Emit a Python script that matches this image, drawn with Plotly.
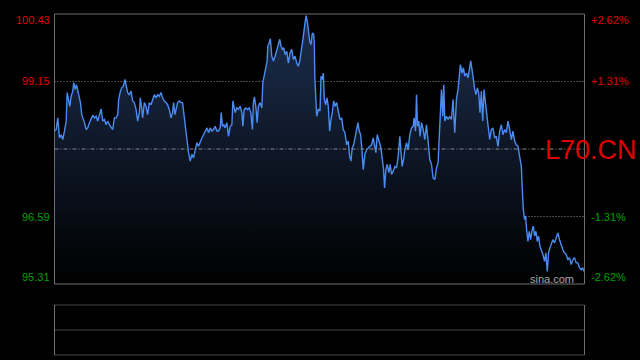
import plotly.graph_objects as go

# time index (minutes from open, approx) and prices
t = [0.0,1.7,3.3,5.0,6.7,8.3,10.0,11.7,12.7,14.0,15.3,16.7,18.3,19.3,20.7,22.0,23.3,24.7,26.0,27.3,
     28.7,30.0,31.7,33.3,35.0,36.7,38.3,40.0,41.7,43.3,45.0,46.7,48.3,50.0,51.7,53.3,55.0,56.7,58.3,60.0,
     61.7,63.3,64.3,65.7,67.3,69.0,70.7,72.0,73.3,75.0,76.7,78.3,80.0,81.7,83.3,85.0,86.0,87.3,88.3,90.0,
     91.7,93.3,95.0,96.7,98.3,100.0,101.7,103.3,105.0,106.7,108.3,110.0,111.7,113.3,115.0,116.7,118.3,119.3,120.7,122.0,
     123.3,125.0,126.7,128.3,130.0,131.7,132.7,134.3,136.0,137.7,139.3,141.0,142.7,144.3,146.0,147.7,149.3,151.0,152.7,154.3,
     156.0,157.7,159.3,161.0,162.7,164.3,166.0,167.0,168.3,169.7,171.0,172.7,174.3,176.0,177.7,178.7,180.0,181.0,182.7,184.3,
     186.0,187.7,188.7,190.0,191.7,193.3,195.0,196.7,198.3,199.3,200.3,201.7,203.0,204.3,206.0,207.7,208.7,210.0,211.7,213.0,
     213.7,215.0,216.3,217.7,219.3,221.0,222.7,224.3,225.7,227.0,228.3,229.7,231.0,232.7,234.3,236.0,237.7,239.3,241.0,242.7,
     244.3,246.0,247.7,249.3,251.0,252.0,253.3,254.3,255.7,257.0,258.3,259.7,260.3,260.8,262.7,264.3,266.0,267.0,268.3,269.3,
     270.3,271.7,273.0,274.3,275.7,277.0,278.3,279.7,281.0,282.7,284.3,286.0,287.7,289.3,291.0,292.7,294.3,295.7,297.0,298.3,
     299.7,301.0,302.7,304.0,305.3,306.7,308.0,309.3,311.0,312.7,314.3,316.0,317.7,319.3,321.0,322.0,323.3,325.0,326.7,328.3,
     329.7,330.7,332.0,333.3,335.0,336.3,337.7,339.3,341.0,342.7,344.3,346.0,347.0,348.3,349.7,351.0,352.7,354.3,356.0,357.7,
     359.3,360.3,361.7,362.7,363.7,365.0,366.3,367.7,369.3,371.0,372.7,374.3,376.0,377.7,379.3,381.0,382.7,384.3,385.3,386.3,
     387.7,389.0,390.0,391.0,392.7,394.3,396.0,397.7,399.3,401.0,402.7,404.3,405.3,406.7,408.3,409.7,411.0,412.7,414.3,415.7,
     417.0,418.3,419.7,421.0,422.3,423.7,425.0,426.3,427.7,429.0,430.3,431.7,433.0,434.3,436.0,437.7,439.3,441.0,442.7,444.3,
     446.0,447.7,449.3,451.0,452.7,454.3,456.0,457.7,459.3,461.0,462.7,464.3,466.0,467.7,468.7,469.7,471.0,472.0,473.0,474.3,
     475.7,477.0,478.3,479.7,481.0,482.3,483.7,485.0,486.3,487.7,489.3,491.0,492.3,493.7,495.0,496.3,497.7,499.3,501.0,502.7,
     504.3,506.0,507.7,509.3,511.0,512.7,514.3,516.0,517.7,519.3,521.0,522.7,524.3,526.0,527.7,529.3,530.3]

price = [98.21,98.24,98.46,98.08,98.14,98.05,98.21,98.40,98.94,98.84,98.68,98.87,98.97,99.13,99.00,99.09,98.97,98.90,98.75,98.52,
         98.46,98.37,98.24,98.27,98.37,98.46,98.51,98.46,98.49,98.40,98.52,98.63,98.40,98.43,98.33,98.40,98.33,98.27,98.24,98.46,
         98.46,98.52,98.81,98.94,99.03,99.06,99.19,99.06,98.94,98.90,98.97,98.78,98.75,98.62,98.40,98.56,98.84,98.65,98.46,98.75,
         98.68,98.52,98.75,98.71,98.81,98.90,98.84,98.90,98.87,98.94,98.84,98.78,98.75,98.71,98.62,98.46,98.56,98.75,98.52,98.62,
         98.75,98.78,98.75,98.75,98.43,98.18,98.05,97.80,97.64,97.77,97.70,97.86,97.99,97.92,98.02,98.08,98.14,98.21,98.27,98.18,
         98.27,98.21,98.24,98.30,98.21,98.21,98.27,98.56,98.30,98.33,98.27,98.37,98.11,98.30,98.33,98.78,98.68,98.56,98.65,98.62,
         98.68,98.56,98.30,98.62,98.65,98.62,98.65,98.56,98.24,98.75,98.86,98.68,98.37,98.68,98.75,98.65,99.13,99.28,99.41,99.54,
         99.82,99.88,99.96,99.63,99.54,99.63,99.76,99.85,99.95,99.82,99.76,99.79,99.66,99.72,99.50,99.69,99.76,99.57,99.63,99.50,
         99.44,99.57,99.76,100.01,100.26,100.40,100.29,100.14,99.91,99.85,100.07,100.04,99.88,99.24,98.49,98.62,98.59,99.25,99.19,99.31,
         98.81,98.71,98.84,98.68,98.21,98.43,98.56,98.78,98.68,98.75,98.56,98.43,98.46,98.24,98.18,97.95,98.02,97.73,97.64,97.89,
         97.95,98.08,98.27,98.37,98.21,98.14,97.86,97.48,97.77,97.86,97.89,97.92,97.95,98.08,97.86,97.80,98.14,98.02,97.92,97.70,
         97.48,97.13,97.48,97.58,97.42,97.58,97.39,97.45,97.54,97.51,97.73,98.11,97.92,97.54,97.67,97.86,97.99,97.86,98.14,98.27,
         98.30,98.46,98.21,98.90,98.30,98.40,98.11,98.37,98.24,98.05,98.33,97.92,97.67,97.58,97.32,97.29,97.51,97.61,98.11,98.40,
         99.00,98.49,99.09,98.40,98.49,98.43,98.49,98.43,98.81,98.18,98.81,99.00,99.19,99.47,99.31,99.41,99.25,99.31,99.22,99.44,
         99.54,99.38,99.13,99.00,98.90,99.03,98.94,98.56,98.97,98.40,99.00,98.75,98.43,98.33,98.05,98.24,98.27,98.08,98.11,97.92,
         98.21,98.33,98.14,98.24,98.18,98.40,98.24,98.05,98.21,98.02,97.95,97.92,97.73,97.54,97.10,96.72,96.53,96.60,96.34,96.12,
         96.31,96.15,96.31,96.41,96.22,96.31,96.12,96.22,96.03,95.96,95.87,95.74,95.90,95.55,95.90,95.99,96.09,96.15,96.09,96.19,
         96.28,96.15,96.03,95.96,95.90,95.87,95.77,95.81,95.68,95.77,95.81,95.71,95.71,95.62,95.58,95.62,95.55]

prev_close = 97.87
left_ticks = [100.43, 99.15, 96.59, 95.31]
right_labels = ["+2.62%", "+1.31%", "-1.31%", "-2.62%"]
symbol = "L70.CN"
watermark = "sina.com"

W, H = 640, 360
px = lambda v: v / W
py = lambda v: (H - v) / H

RED = "#e00000"
GREEN = "#00a000"
GRID = "#8a8a8a"
BORDER = "#6e6e6e"
FONT = "Arial, Liberation Sans, sans-serif"

fig = go.Figure()
fig.add_trace(go.Scatter(
    x=t, y=price, mode="lines",
    line=dict(color="#4a8cf0", width=1.4),
    fill="tozeroy",
    fillgradient=dict(type="vertical", start=95.31, stop=100.43,
                      colorscale=[[0, "rgba(0,0,0,1)"], [1, "rgba(28,46,78,1)"]]),
    hoverinfo="skip", showlegend=False,
))

shapes = []
# main panel border
shapes.append(dict(type="rect", xref="x domain", yref="y domain", x0=0, x1=1, y0=0, y1=1,
                   line=dict(color=BORDER, width=1), layer="above"))
# gridlines
for v in [left_ticks[1], left_ticks[2]]:
    shapes.append(dict(type="line", xref="x domain", yref="y", x0=0, x1=1, y0=v, y1=v,
                       line=dict(color=GRID, width=1, dash="1px,2px"), layer="below"))
shapes.append(dict(type="line", xref="x domain", yref="y", x0=0, x1=1, y0=prev_close, y1=prev_close,
                   line=dict(color=GRID, width=1, dash="4px,2px,1px,2px"), layer="above"))

# lower (volume) panel
lx0, lx1 = px(54.5), px(584.5)
shapes.append(dict(type="line", xref="paper", yref="paper", x0=lx0, x1=lx0, y0=py(355), y1=py(305),
                   line=dict(color=BORDER, width=1)))
shapes.append(dict(type="line", xref="paper", yref="paper", x0=lx1, x1=lx1, y0=py(355), y1=py(305),
                   line=dict(color=BORDER, width=1)))
for yy in [305, 330, 355]:
    shapes.append(dict(type="line", xref="paper", yref="paper", x0=lx0, x1=lx1, y0=py(yy), y1=py(yy),
                       line=dict(color=GRID, width=1, dash="1px,1px")))

annotations = []
shifts = [-6, 0, 0, 7]
colors = [RED, RED, GREEN, GREEN]
for v, lab, s, c in zip(left_ticks, right_labels, shifts, colors):
    annotations.append(dict(x=px(52), y=v, xref="paper", yref="y", text=f"{v:.2f}", showarrow=False,
                            xanchor="right", yanchor="middle", yshift=s, font=dict(family=FONT, size=11, color=c)))
    annotations.append(dict(x=px(589), y=v, xref="paper", yref="y", text=lab, showarrow=False,
                            xanchor="left", yanchor="middle", yshift=s, font=dict(family=FONT, size=11, color=c)))
annotations.append(dict(x=px(543), y=prev_close, xref="paper", yref="y", text=symbol, showarrow=False,
                        xanchor="left", yanchor="middle", yshift=-1, font=dict(family=FONT, size=27, color=RED)))
annotations.append(dict(x=px(552), y=py(279), xref="paper", yref="paper", text=watermark, showarrow=False,
                        xanchor="center", yanchor="middle", font=dict(family=FONT, size=11, color="#a8a8a8")))

fig.update_layout(
    width=W, height=H, margin=dict(l=0, r=0, t=0, b=0),
    paper_bgcolor="black", plot_bgcolor="black",
    xaxis=dict(domain=[px(54.5), px(584.5)], range=[0, 531], showgrid=False, zeroline=False,
               showticklabels=False, ticks="", fixedrange=True),
    yaxis=dict(domain=[py(284), py(14)], range=[95.31, 100.43], showgrid=False, zeroline=False,
               showticklabels=False, ticks="", fixedrange=True),
    shapes=shapes, annotations=annotations, hovermode=False,
)

fig.write_html("out.html", config={"displayModeBar": False})
